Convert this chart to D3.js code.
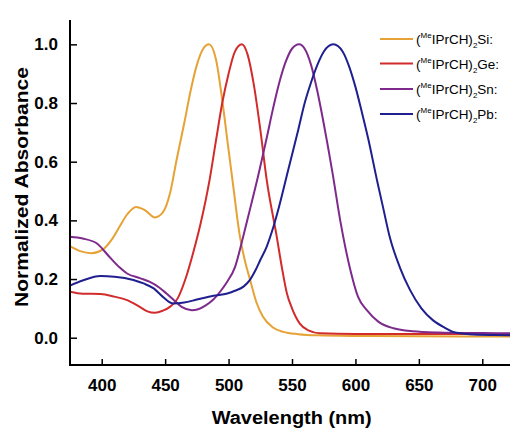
<!DOCTYPE html>
<html>
<head>
<meta charset="utf-8">
<script src="https://cdn.jsdelivr.net/npm/d3@7"></script>
<style>
  html, body { margin: 0; padding: 0; background: #ffffff; }
  svg { display: block; }
  text { font-family: "Liberation Sans", Arial, sans-serif; }
</style>
</head>
<body>
<svg id="chart" width="510" height="429"></svg>
<script>
// ---- data ----
const seriesNames = ["Si", "Ge", "Sn", "Pb"];
const seriesColors = ["#E6A234", "#D22B2B", "#7E2A8C", "#1F1F8F"];

const siX = [375, 383, 392, 401, 408, 414, 420, 427, 434, 442, 448, 454, 459, 465, 470, 475, 480, 484.5, 490, 495, 500, 503, 509, 513, 517, 522, 527, 535, 543, 555, 570, 600, 650, 725];
const siY = [0.312, 0.295, 0.288, 0.301, 0.335, 0.378, 0.42, 0.446, 0.435, 0.41, 0.426, 0.495, 0.606, 0.73, 0.84, 0.93, 0.985, 1.0, 0.95, 0.81, 0.64, 0.54, 0.344, 0.26, 0.197, 0.12, 0.072, 0.035, 0.02, 0.012, 0.008, 0.006, 0.005, 0.004];

const geX = [375, 385, 399, 410, 420, 430, 436, 442, 448, 454, 460, 466, 472, 478, 485, 490, 495, 500, 505, 510.5, 515, 520, 525, 530, 538, 542, 546, 550, 556, 563, 572, 600, 650, 725];
const geY = [0.157, 0.15, 0.149, 0.14, 0.128, 0.105, 0.09, 0.085, 0.092, 0.106, 0.135, 0.2, 0.288, 0.39, 0.537, 0.67, 0.80, 0.90, 0.975, 1.0, 0.965, 0.86, 0.71, 0.54, 0.344, 0.24, 0.151, 0.10, 0.049, 0.025, 0.015, 0.013, 0.013, 0.013];

const snX = [375, 385, 396, 406, 414, 420, 430, 438, 445, 451, 457, 463, 471, 476, 482, 488, 493, 498, 505, 511.5, 517, 522.5, 530, 535, 540, 545, 550, 555.6, 560, 565, 570, 575, 582, 588, 596, 602, 609, 618, 630, 645, 665, 700, 725];
const snY = [0.344, 0.338, 0.322, 0.276, 0.24, 0.219, 0.203, 0.19, 0.172, 0.151, 0.128, 0.105, 0.094, 0.097, 0.11, 0.13, 0.155, 0.185, 0.24, 0.344, 0.44, 0.537, 0.68, 0.78, 0.87, 0.94, 0.985, 1.0, 0.985, 0.93, 0.84, 0.73, 0.56, 0.40, 0.231, 0.14, 0.094, 0.055, 0.032, 0.022, 0.018, 0.016, 0.015];

const pbX = [375, 385, 399, 410, 425, 433, 441, 448, 456, 465, 475, 488, 499, 505, 512, 517, 521, 525, 530, 535, 540, 547, 555, 560, 565, 570, 575, 582.6, 590, 595, 600, 605, 610, 617, 622, 627, 635, 643, 652, 661, 670, 677, 690, 710, 725];
const pbY = [0.178, 0.195, 0.21, 0.208, 0.197, 0.185, 0.168, 0.14, 0.117, 0.12, 0.13, 0.143, 0.151, 0.16, 0.175, 0.198, 0.228, 0.265, 0.31, 0.373, 0.45, 0.572, 0.71, 0.80, 0.87, 0.93, 0.975, 1.0, 0.975, 0.925, 0.855, 0.77, 0.68, 0.537, 0.44, 0.344, 0.24, 0.163, 0.10, 0.06, 0.035, 0.02, 0.012, 0.009, 0.008];

const xTicks = [400, 450, 500, 550, 600, 650, 700];
const yTicks = [0.0, 0.2, 0.4, 0.6, 0.8, 1.0];

// ---- build series table ----
const seriesX = [siX, geX, snX, pbX];
const seriesY = [siY, geY, snY, pbY];
const series = seriesNames.map((name, i) => ({
  name, color: seriesColors[i],
  points: seriesX[i].map((xv, j) => ({ x: xv, y: seriesY[i][j] }))
}));

// ---- layout ----
const svg = d3.select("#chart");
const mLeft = 70, mRight = 514, mTop = 20, mBottom = 365;

const x = d3.scaleLinear().domain([375, 725]).range([mLeft, mRight]);
const y = d3.scaleLinear().domain([-0.093, 1.083]).range([mBottom, mTop]);

svg.append("defs").append("clipPath").attr("id", "clip")
  .append("rect").attr("x", mLeft).attr("y", mTop).attr("width", mRight - mLeft).attr("height", mBottom - mTop);

const line = d3.line()
  .x(d => x(d.x)).y(d => y(d.y))
  .curve(d3.curveMonotoneX);

const plot = svg.append("g").attr("clip-path", "url(#clip)");
plot.selectAll("path.series")
  .data(series).join("path")
  .attr("class", "series")
  .attr("fill", "none")
  .attr("stroke", d => d.color)
  .attr("stroke-width", 2)
  .attr("stroke-linejoin", "round")
  .attr("d", d => line(d.points));

// ---- axes ----
const xAxis = d3.axisBottom(x).tickValues(xTicks).tickSize(-6).tickPadding(14)
  .tickFormat(d3.format("d"));
const gx = svg.append("g").attr("transform", `translate(0,${mBottom})`).call(xAxis);
gx.select(".domain").remove();
gx.append("line").attr("x1", mLeft - 1).attr("x2", mRight).attr("y1", 0).attr("y2", 0)
  .attr("stroke", "#000").attr("stroke-width", 2);
gx.selectAll(".tick line").attr("stroke", "#000").attr("stroke-width", 1.5);
gx.selectAll(".tick text")
  .attr("fill", "#000").attr("font-size", 17).attr("font-weight", "bold")
  .attr("font-family", "Liberation Sans, Arial, sans-serif");

const yAxis = d3.axisLeft(y).tickValues(yTicks).tickSize(-7).tickPadding(12)
  .tickFormat(d3.format(".1f"));
const gy = svg.append("g").attr("transform", `translate(${mLeft},0)`).call(yAxis);
gy.select(".domain").remove();
gy.append("line").attr("x1", 0).attr("x2", 0).attr("y1", mTop).attr("y2", mBottom + 1)
  .attr("stroke", "#000").attr("stroke-width", 2);
gy.selectAll(".tick line").attr("stroke", "#000").attr("stroke-width", 1.5);
gy.selectAll(".tick text")
  .attr("fill", "#000").attr("font-size", 17).attr("font-weight", "bold")
  .attr("font-family", "Liberation Sans, Arial, sans-serif");

// axis titles
svg.append("text")
  .attr("x", 291.7).attr("y", 424)
  .attr("text-anchor", "middle")
  .attr("font-size", 18).attr("font-weight", "bold")
  .attr("textLength", 160).attr("lengthAdjust", "spacingAndGlyphs")
  .text("Wavelength (nm)");

svg.append("text")
  .attr("transform", "translate(28,187) rotate(-90)")
  .attr("text-anchor", "middle")
  .attr("font-size", 19).attr("font-weight", "bold")
  .attr("textLength", 240).attr("lengthAdjust", "spacingAndGlyphs")
  .text("Normalized Absorbance");

// ---- legend ----
const legendY = [39, 63.5, 89, 114];
const lg = svg.append("g");
series.forEach((s, i) => {
  const g = lg.append("g").attr("transform", `translate(380,${legendY[i]})`);
  g.append("line").attr("x1", 0).attr("x2", 33).attr("y1", 0).attr("y2", 0)
    .attr("stroke", s.color).attr("stroke-width", 2);
  const t = g.append("text").attr("x", 36).attr("y", 5)
    .attr("font-size", 13.5).attr("fill", "#000");
  t.append("tspan").text("(");
  t.append("tspan").attr("font-size", 8).attr("dy", -6).text("Me");
  t.append("tspan").attr("dy", 6).text("IPrCH)");
  t.append("tspan").attr("font-size", 8).attr("dy", 4).text("2");
  t.append("tspan").attr("dy", -4).text(s.name + ":");
});
</script>
</body>
</html>
